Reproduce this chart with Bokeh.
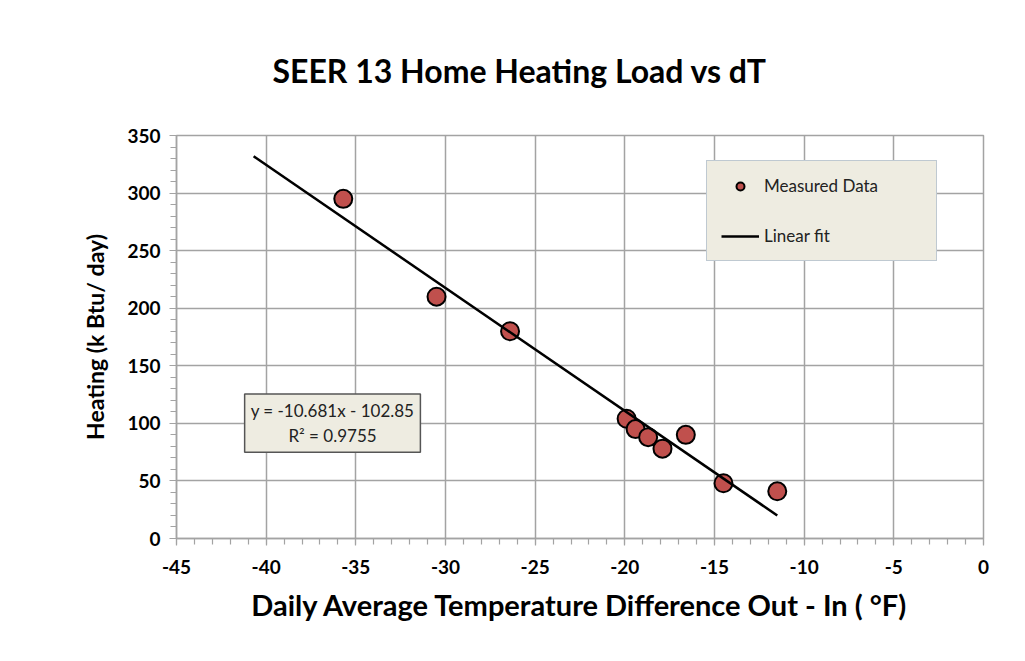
from bokeh.plotting import figure
from bokeh.models import Range1d, FixedTicker, Legend, LegendItem, Label
from bokeh.embed import file_html
from bokeh.resources import INLINE

# ---- data ----
temp_diff = [-35.7, -30.5, -26.4, -19.9, -19.4, -18.7, -17.9, -16.6, -14.5, -11.5]
heating = [295, 210, 180, 104, 95, 88, 78, 90, 48, 41]

fit_x = [-40.7, -11.5]
fit_y = [331.9, 20.0]

x_ticks = [-45, -40, -35, -30, -25, -20, -15, -10, -5, 0]
y_ticks = [0, 50, 100, 150, 200, 250, 300, 350]

title_text = "SEER 13 Home Heating Load vs dT"
x_label = "Daily Average Temperature Difference Out - In ( °F)"
y_label = "Heating (k Btu/ day)"
eq_text = "y = -10.681x - 102.85\nR² = 0.9755"

FONT = "Lato"
GRID = "#a3a3a3"

p = figure(width=1009, height=645, output_backend="svg", toolbar_location=None,
           x_range=Range1d(-45, 0), y_range=Range1d(0, 350),
           min_border_left=176, min_border_right=26, min_border_top=135, min_border_bottom=107)

p.background_fill_color = "white"
p.border_fill_color = "white"
p.outline_line_color = GRID
p.outline_line_width = 1.5

# title
p.title.text = title_text
p.title.text_font = FONT
p.title.text_font_style = "bold"
p.title.text_font_size = "32px"
p.title.text_color = "black"
p.title.align = "left"
p.title.offset = 96
p.title.standoff = 92

# axes
for ax in (p.xaxis[0], p.yaxis[0]):
    ax.axis_line_color = GRID
    ax.axis_line_width = 1.5
    ax.major_tick_line_color = GRID
    ax.minor_tick_line_color = GRID
    ax.major_tick_line_width = 1.2
    ax.minor_tick_line_width = 1.2
    ax.major_tick_in = 0
    ax.major_tick_out = 7
    ax.minor_tick_in = 0
    ax.minor_tick_out = 6
    ax.major_label_text_font = FONT
    ax.major_label_text_font_style = "bold"
    ax.major_label_text_font_size = "19px"
    ax.major_label_text_color = "black"
    ax.axis_label_text_font = FONT
    ax.axis_label_text_font_style = "bold"
    ax.axis_label_text_color = "black"

p.xaxis.ticker = FixedTicker(ticks=x_ticks, minor_ticks=list(range(-45, 1)))
p.yaxis.ticker = FixedTicker(ticks=y_ticks, minor_ticks=list(range(0, 351, 10)))
p.xaxis.major_label_overrides = {t: str(t) for t in x_ticks}
p.xaxis.axis_label = x_label
p.yaxis.axis_label = y_label
p.xaxis.axis_label_text_font_size = "29px"
p.yaxis.axis_label_text_font_size = "23px"
p.xaxis.major_label_standoff = 14
p.yaxis.major_label_standoff = 9
p.xaxis.axis_label_standoff = 10
p.yaxis.axis_label_standoff = 15

# grid
p.xgrid.ticker = FixedTicker(ticks=x_ticks)
p.ygrid.ticker = FixedTicker(ticks=y_ticks)
p.grid.grid_line_color = GRID
p.grid.grid_line_width = 1.5

# data
sc = p.scatter(temp_diff, heating, size=18, fill_color="#C0504D",
               line_color="black", line_width=2)
ln = p.line(fit_x, fit_y, line_color="black", line_width=2.5)

legend = Legend(items=[LegendItem(label="Measured Data", renderers=[sc]),
                       LegendItem(label="Linear fit", renderers=[ln])],
                location=(530, 277))
legend.background_fill_color = "#EEECE1"
legend.background_fill_alpha = 1
legend.border_line_color = "#8fa6c2"
legend.border_line_width = 1.5
legend.padding = 14
legend.spacing = 29
legend.glyph_height = 20
legend.glyph_width = 38
legend.label_height = 20
legend.label_width = 158
legend.label_standoff = 5
legend.label_text_font = FONT
legend.label_text_font_size = "17px"
legend.label_text_color = "#222222"
p.add_layout(legend)

eq = Label(x=-36.3, y=100.2, text=eq_text, text_align="center", text_baseline="middle",
           text_font=FONT, text_font_size="17px", text_color="#222222",
           background_fill_color="#EEECE1", background_fill_alpha=1,
           border_line_color="#555555", border_line_width=1.5, padding=6)
p.add_layout(eq)

open("out.html", "w").write(file_html(p, INLINE))
